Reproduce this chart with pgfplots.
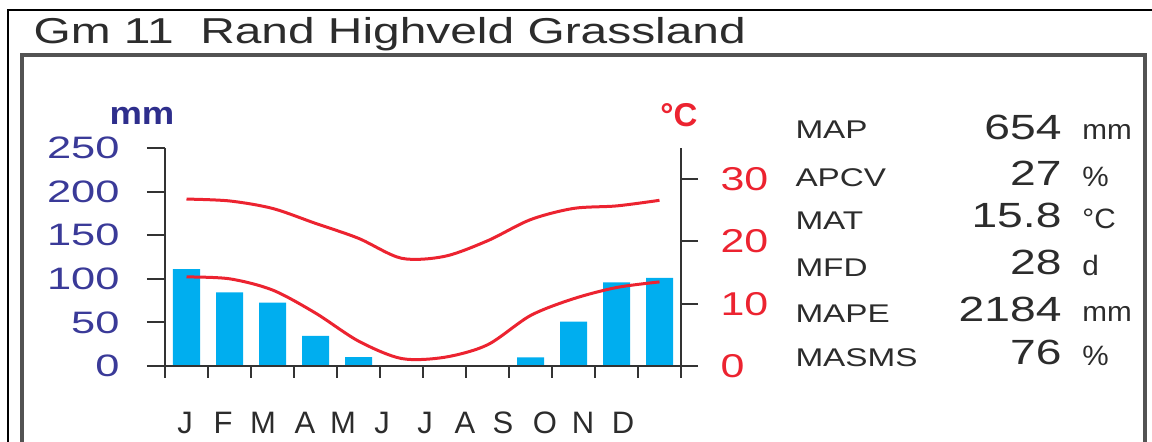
\documentclass[border=0pt]{standalone}
\usepackage{pgfplots}
\pgfplotsset{compat=1.18}
\usepackage{fontspec}
\setmainfont{Liberation Sans}
\definecolor{barblue}{HTML}{00AEEF}
\definecolor{tred}{HTML}{EC2330}
\definecolor{mmblue}{HTML}{2E2E8C}
\definecolor{tickblue}{HTML}{3A3A98}
\definecolor{txt}{HTML}{2C2C2C}
\definecolor{axgray}{HTML}{333333}
\begin{document}
\begin{tikzpicture}[x=0.5pt,y=-0.5pt]
\path[use as bounding box] (0,0) rectangle (1152,442);
% frames
\draw[black, line width=0.8pt] (8,470) -- (8,10) -- (1180,10);
\draw[gray!65!black, line width=2.2pt] (22,470) -- (22,55) -- (1145,55) -- (1145,470);
% title
\node[anchor=base west, inner sep=0, text=txt, font=\fontsize{18}{20}\selectfont, xscale=1.33] at (33,44) {Gm 11\ \ Rand Highveld Grassland};

% precipitation axis (left)
\begin{axis}[
  at={(82.5pt,-183pt)}, anchor=south west,
  scale only axis, width=258pt, height=109pt,
  xmin=0, xmax=12, ymin=0, ymax=250,
  axis x line=none, axis y line=left,
  axis line style={-, axgray, line width=1pt},
  ytick={0,50,...,250},
  /pgf/number format/assume math mode=true,
  tick align=outside, major tick length=9pt,
  tick style={axgray, line width=1pt},
  yticklabel style={inner sep=0pt, text=tickblue, font=\fontsize{15.5}{15}\selectfont, anchor=east, xshift=-13.5pt, xscale=1.4},
  clip=false,
]
\addplot[ybar, bar width=13.5pt, fill=barblue, draw=none] coordinates {
(0.5,111) (1.5,84.5) (2.5,72.6) (3.5,34.4) (4.5,10.3) (5.5,0) (6.5,0) (7.5,0) (8.5,10) (9.5,51) (10.5,96) (11.5,101)};
\end{axis}

% temperature axis (right)
\begin{axis}[
  at={(82.5pt,-183pt)}, anchor=south west,
  scale only axis, width=258pt, height=109pt,
  xmin=0, xmax=12, ymin=0, ymax=35,
  axis x line=none, axis y line=right,
  axis line style={-, axgray, line width=1pt},
  ytick={0,10,20,30},
  /pgf/number format/assume math mode=true,
  tick align=outside, major tick length=8.5pt,
  tick style={axgray, line width=1pt},
  yticklabel style={inner sep=0pt, text=tred, font=\fontsize{16.5}{16}\selectfont, anchor=west, xshift=11pt, xscale=1.3},
  clip=false,
]
\addplot[tred, line width=1.5pt, smooth] coordinates {
(0.5,26.8) (1.5,26.5) (2.5,25.3) (3.5,22.9) (4.5,20.5) (5.5,17.3) (6.5,17.6) (7.5,20.1) (8.5,23.5) (9.5,25.3) (10.5,25.7) (11.5,26.6)};
\addplot[tred, line width=1.5pt, smooth] coordinates {
(0.5,14.3) (1.5,14.0) (2.5,12.2) (3.5,8.5) (4.5,4.0) (5.5,1.2) (6.5,1.4) (7.5,3.4) (8.5,8.1) (9.5,10.8) (10.5,12.6) (11.5,13.5)};
\end{axis}

% x axis
\begin{axis}[
  at={(82.5pt,-183pt)}, anchor=south west,
  scale only axis, width=258pt, height=109pt,
  xmin=0, xmax=12, ymin=0, ymax=250,
  axis x line=bottom, axis y line=none,
  axis line style={-, axgray, line width=1pt},
  xtick={0,...,12}, xticklabels={},
  tick align=outside, major tick length=6pt,
  tick style={axgray, line width=1pt},
]
\end{axis}

% axis unit labels
\node[anchor=base, inner sep=0, text=mmblue, font=\bfseries\fontsize{16}{16}\selectfont, xscale=1.14] at (142,125) {mm};
\node[anchor=base, inner sep=0, text=tred, font=\bfseries\fontsize{16.5}{16}\selectfont] at (679,127) {°C};

% month labels
\foreach \m/\xx in {J/185, F/223, M/263, A/305, M/343, J/382, J/425, A/465, S/503, O/545, N/583, D/623}
  \node[anchor=base, inner sep=0, text=txt, font=\fontsize{15.5}{16}\selectfont] at (\xx,434) {\m};

% statistics
\foreach \lab/\yy in {MAP/139, APCV/187, MAT/230, MFD/277, MAPE/323, MASMS/367}
  \node[anchor=base west, inner sep=0, text=txt, font=\fontsize{12.8}{14}\selectfont, xscale=1.3] at (795,\yy) {\lab};
\foreach \val/\yy in {654/140, 27/186, 15.8/228, 28/275, 2184/322, 76/365}
  \node[anchor=base east, inner sep=0, text=txt, font=\fontsize{17.5}{18}\selectfont, xscale=1.32] at (1062,\yy) {\val};
\foreach \u/\yy in {mm/140, \%/187, °C/229, d/276, mm/322, \%/366}
  \node[anchor=base west, inner sep=0, text=txt, font=\fontsize{14}{14}\selectfont, xscale=1.06] at (1082,\yy) {\u};
\end{tikzpicture}
\end{document}
